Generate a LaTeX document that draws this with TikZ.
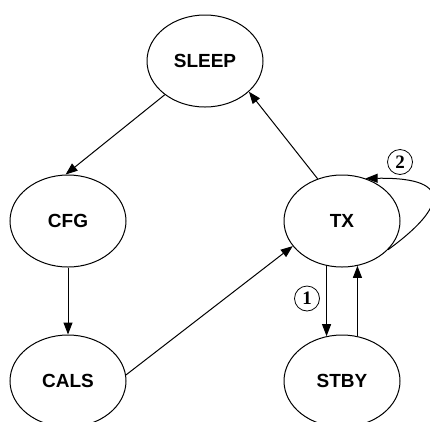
\documentclass[tikz,border=0pt]{standalone}
\usepackage{fontspec}
\usetikzlibrary{shapes.geometric,arrows.meta}
\newfontfamily\statefamily{Liberation Sans}
\newfontfamily\tagfamily{Liberation Serif}

\tikzset{
  state/.style={ellipse, draw, line width=1pt, minimum width=116pt, minimum height=92pt,
    inner sep=0pt, font=\statefamily\bfseries\fontsize{19pt}{22pt}\selectfont},
  trans/.style={line width=1pt, -{Triangle[length=12pt,width=9pt]}},
  tag/.style={circle, draw, line width=0.8pt, minimum size=25pt, inner sep=0pt,
    font=\tagfamily\bfseries\fontsize{19pt}{22pt}\selectfont}
}

\begin{document}
\begin{tikzpicture}[x=1pt, y=-1pt]
  \useasboundingbox (0,0) rectangle (430,421);
  \clip (0,0) rectangle (430,421);

  % states
  \node[state] (SLEEP) at (205,61)  {SLEEP};
  \node[state] (CFG)   at (68,221)  {CFG};
  \node[state] (TX)    at (342,221) {TX};
  \node[state] (CALS)  at (68,381)  {CALS};
  \node[state] (STBY)  at (342,381) {STBY};

  % transitions
  \draw[trans] (SLEEP.220) -- (CFG.93);
  \draw[trans] (CFG.south) -- (CALS.north);
  \draw[trans] (CALS.6) -- (TX.207);
  \draw[trans] (TX.120) -- (SLEEP.325);
  \draw[trans] (TX.251) -- (STBY.109);
  \draw[trans] (STBY.71) -- (TX.289);
  \draw[trans] (TX.328) .. controls (440,212) and (460,177) .. (TX.61);

  % transition tags
  \node[tag] (t1) at (307,298.5) {1};
  \node[tag] (t2) at (400,162) {2};
\end{tikzpicture}
\end{document}
